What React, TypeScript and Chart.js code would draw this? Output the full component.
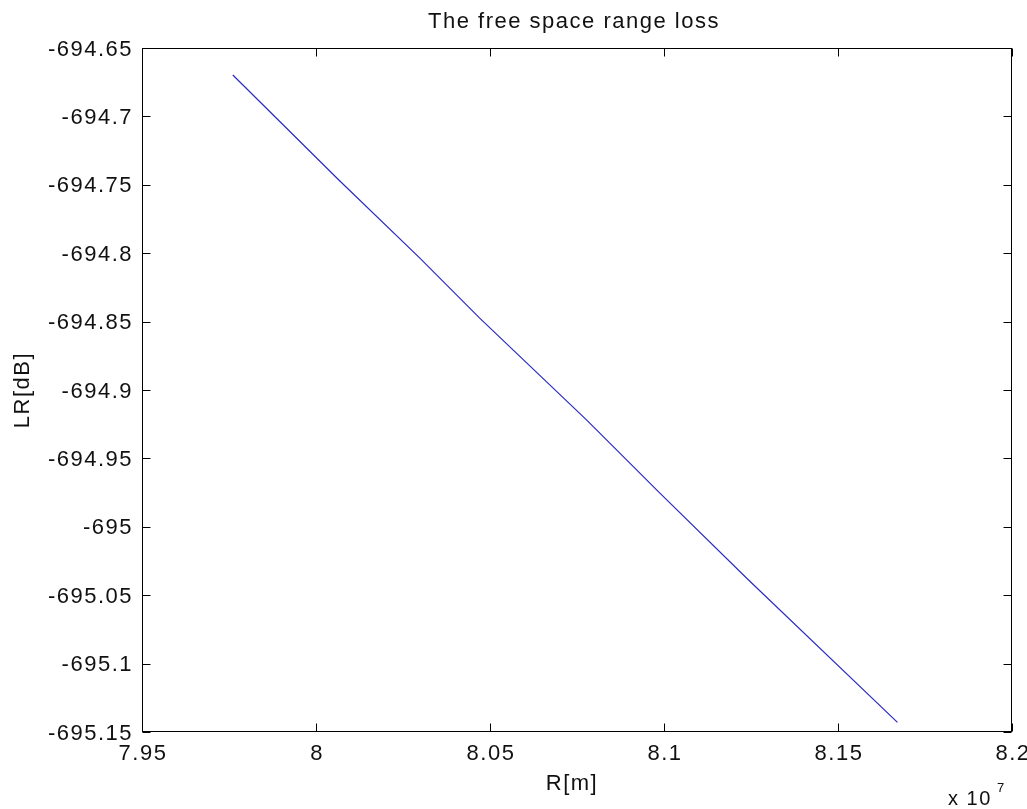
import React, { useEffect, useRef } from "react";
import { Chart, registerables } from "chart.js";

Chart.register(...registerables);

// Range R [m] and loss LR [dB]
const rangeValues = [7.9761e7, 8.00656e7, 8.02978e7, 8.04704e7, 8.07773e7, 8.09882e7, 8.12422e7, 8.16709e7];
const lossValues = [-694.6697, -694.7465, -694.8034, -694.8475, -694.9218, -694.9754, -695.0387, -695.143];

const xTicks = [7.95e7, 8.0e7, 8.05e7, 8.1e7, 8.15e7, 8.2e7];
const xTickLabels = ["7.95", "8", "8.05", "8.1", "8.15", "8.2"];
const yTicks = [-694.65, -694.7, -694.75, -694.8, -694.85, -694.9, -694.95, -695, -695.05, -695.1, -695.15];
const yTickLabels = ["-694.65", "-694.7", "-694.75", "-694.8", "-694.85", "-694.9", "-694.95", "-695", "-695.05", "-695.1", "-695.15"];

const titleText = "The free space range loss";
const xLabel = "R[m]";
const yLabel = "LR[dB]";

const FONT = '"Liberation Sans", Arial, Helvetica, sans-serif';

const matlabAxes = {
  id: "matlabAxes",
  afterDraw(chart: any) {
    const ctx = chart.ctx as CanvasRenderingContext2D;
    const a = chart.chartArea;
    const xs = chart.scales.x;
    const ys = chart.scales.y;
    const L = Math.round(a.left) + 0.5;
    const R = Math.round(a.right) - 0.5;
    const T = Math.round(a.top) + 0.5;
    const B = Math.round(a.bottom) - 0.5;
    ctx.save();
    ctx.strokeStyle = "#000";
    ctx.lineWidth = 1;
    ctx.strokeRect(L, T, R - L, B - T);
    const tl = 8;
    ctx.beginPath();
    xTicks.forEach((v) => {
      const px = Math.round(xs.getPixelForValue(v)) + 0.5;
      ctx.moveTo(px, B);
      ctx.lineTo(px, B - tl);
      ctx.moveTo(px, T);
      ctx.lineTo(px, T + tl);
    });
    yTicks.forEach((v) => {
      const py = Math.round(ys.getPixelForValue(v)) + 0.5;
      ctx.moveTo(L, py);
      ctx.lineTo(L + tl, py);
      ctx.moveTo(R, py);
      ctx.lineTo(R - tl, py);
    });
    ctx.stroke();

    ctx.fillStyle = "#111";
    (ctx as any).letterSpacing = "1.5px";
    ctx.font = `22px ${FONT}`;
    ctx.textBaseline = "alphabetic";
    // y tick labels
    ctx.textAlign = "right";
    yTicks.forEach((v, i) => {
      const py = ys.getPixelForValue(v);
      ctx.fillText(yTickLabels[i], a.left - 9, py + 7.5);
    });
    // x tick labels
    ctx.textAlign = "center";
    xTicks.forEach((v, i) => {
      const px = xs.getPixelForValue(v);
      ctx.fillText(xTickLabels[i], px + 1, a.bottom + 28);
    });
    // title
    const cx = (a.left + a.right) / 2;
    ctx.fillText(titleText, cx - 3, 28);
    // x label
    ctx.fillText(xLabel, cx - 5, 790);
    // y label
    ctx.save();
    ctx.translate(29, (a.top + a.bottom) / 2);
    ctx.rotate(-Math.PI / 2);
    ctx.textAlign = "center";
    ctx.fillText(yLabel, 0, 0);
    ctx.restore();
    // exponent
    ctx.textAlign = "left";
    ctx.font = `20px ${FONT}`;
    ctx.fillText("x 10", 948, 805);
    ctx.font = `13px ${FONT}`;
    (ctx as any).letterSpacing = "0px";
    ctx.fillText("7", 997, 792);
    ctx.restore();
  },
};

export default function App() {
  const ref = useRef<HTMLCanvasElement | null>(null);
  useEffect(() => {
    document.body.style.margin = "0";
    const canvas = ref.current;
    if (!canvas) return;
    const chart = new Chart(canvas, {
      type: "line",
      data: {
        datasets: [
          {
            data: rangeValues.map((x, i) => ({ x, y: lossValues[i] })),
            borderColor: "#2b2bc4",
            borderWidth: 1.2,
            pointRadius: 0,
            tension: 0,
            fill: false,
          },
        ],
      },
      options: {
        responsive: false,
        animation: false,
        devicePixelRatio: 1,
        layout: { padding: { left: 142, right: 15, top: 48, bottom: 77 } },
        plugins: { legend: { display: false }, tooltip: { enabled: false }, title: { display: false } },
        scales: {
          x: { type: "linear", min: 7.95e7, max: 8.2e7, display: false },
          y: { type: "linear", min: -695.15, max: -694.65, display: false },
        },
      },
      plugins: [matlabAxes],
    });
    return () => chart.destroy();
  }, []);
  return (
    <div style={{ width: 1027, height: 809, background: "#fff" }}>
      <canvas ref={ref} width={1027} height={809} style={{ display: "block" }} />
    </div>
  );
}
